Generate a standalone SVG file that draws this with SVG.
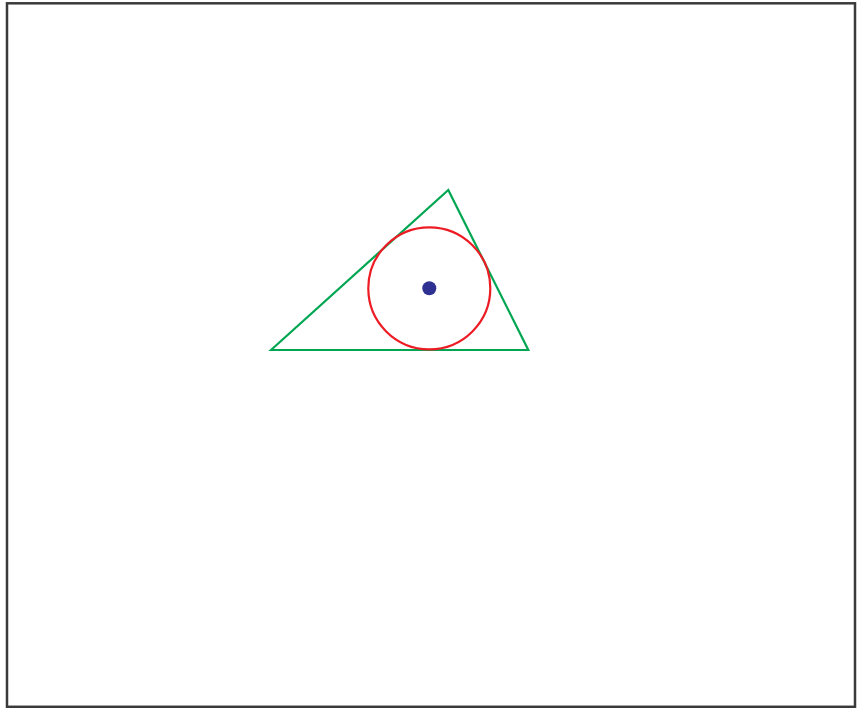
<svg xmlns="http://www.w3.org/2000/svg" width="861" height="708" viewBox="0 0 861 708">
<style>
.frame{fill:#fff;stroke:#3a3a3a;stroke-width:2.5}
.tri{fill:none;stroke:#00a651;stroke-width:2.2;stroke-linejoin:miter}
.inc{fill:none;stroke:#ed1c24;stroke-width:2.2}
.ctr{fill:#2e3192}
</style>
<rect class="frame" x="7" y="3.3" width="848" height="703.5"/>
<g id="triangle"><polygon class="tri" points="271,350 448.3,190 528.3,350"/></g>
<g id="incircle"><circle class="inc" cx="429.3" cy="288.3" r="61"/></g>
<g id="incenter"><circle class="ctr" cx="429.3" cy="288.3" r="7"/></g>
<g id="connectors"/>
</svg>
